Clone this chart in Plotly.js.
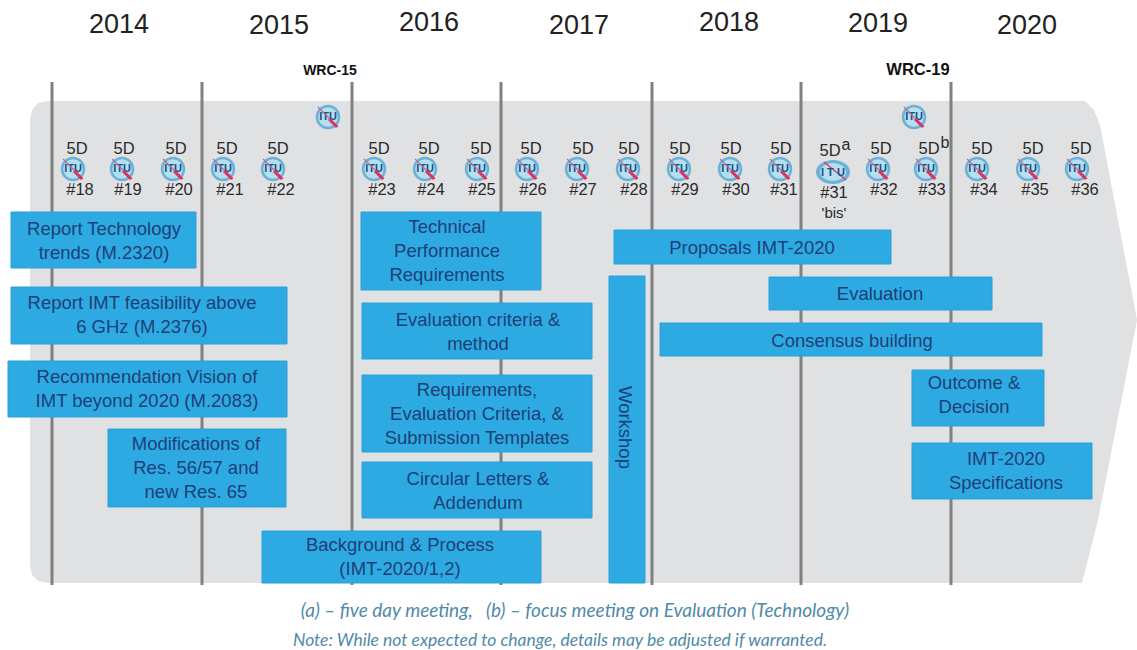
<!DOCTYPE html>
<html><head><meta charset="utf-8">
<script src="https://cdn.plot.ly/plotly-3.0.1.min.js"></script>
<style>html,body{margin:0;padding:0;background:#fff}#c{width:1137px;height:650px}</style>
</head><body><div id="c"></div>
<script>
// Timeline band outline
const bandX = [48,38,32,30,30,32,38,48,1082,1098,1137,1100,1094,1085,48];
const bandY = [101,103,110,120,565,575,581,583,583,520,320,125,110,101,101];

// Year labels
const years = ['2014','2015','2016','2017','2018','2019','2020'];
const yearX = [119,279,429,579,729,878,1027];
const yearY = [26,27,24,27,24,25,27];

// Year boundary lines
const boundaryX = [52,202,352,501,652,801,951];
const boundaryTop = [82,82,82,82,82,82,82];
const boundaryBottom = [585,585,585,585,585,585,585];

// WRC labels
const wrcLabels = ['WRC-15','WRC-19'];
const wrcX = [330,918];
const wrcY = [71,71];
const wrcSize = [14,16.5];
const wrcIconX = [328,914];
const wrcIconY = [117,117];

// Meetings
const meetingLabels = ['#18','#19','#20','#21','#22','#23','#24','#25','#26','#27','#28','#29','#30','#31','#32','#33','#34','#35','#36'];
const meetingIconX = [73,122,173,223,273,374,425,477,527,577,628,679,730,780,878,926,977,1028,1077];
const meetingTagX = [77,124,176,227,278,379,429,481,531,583,629,680,731,781,881,929,982,1033,1081];
const meetingNumX = [80,128,179,230,281,382,431,482,533,583,634,685,736,784,884,932,984,1035,1085];

// Work items
const taskNames = [
  'Report Technology<br>trends (M.2320)',
  'Report IMT feasibility above<br>6 GHz (M.2376)',
  'Recommendation Vision of<br>IMT beyond 2020 (M.2083)',
  'Modifications of<br>Res. 56/57 and<br>new Res. 65',
  'Technical<br>Performance<br>Requirements',
  'Evaluation criteria &<br>method',
  'Requirements,<br>Evaluation Criteria, &<br>Submission Templates',
  'Circular Letters &<br>Addendum',
  'Background & Process<br>(IMT-2020/1,2)',
  'Proposals IMT-2020',
  'Evaluation',
  'Consensus building',
  'Outcome &<br>Decision',
  'IMT-2020<br>Specifications'
];
const taskStart = [11,11,8,108,361,362,362,362,262,614,769,660,912,912];
const taskEnd = [196,287,287,286,541,592,592,592,541,891,992,1042,1044,1092];
const taskTop = [212,287,361,429,212,303,375,462,531,230,277,323,370,443];
const taskBottom = [268,344,417,507,290,359,452,518,583,264,310,356,426,499];
const taskTextX = [104,142,147,196,447,478,477,478,400,752,880,852,974,1006];
const taskTextY = [242,316,390,469,252,333,415,492,558,249,295,342,396,472];

const workshopStart = [609];
const workshopEnd = [645];
const workshopTop = [276];
const workshopBottom = [583];

const footnotes = ['(a) – five day meeting,   (b) – focus meeting on Evaluation (Technology)',
                   'Note: While not expected to change, details may be adjusted if warranted.'];
const footX = [575,560];
const footY = [612,642];
const footSize = [19,17.5];

const BLUE = '#2eaae2', NAVY = '#1d3f78', TXT = '#2b2b2b';
const sans = 'Liberation Sans, Arial, sans-serif';

function rects(s,e,t,b){
  const x=[],y=[];
  s.forEach((v,i)=>{x.push(v,e[i],e[i],v,v,null);y.push(t[i],t[i],b[i],b[i],t[i],null);});
  return {x,y};
}
function vlines(xs,t,b){
  const x=[],y=[];
  xs.forEach((v,i)=>{x.push(v,v,null);y.push(t[i],b[i],null);});
  return {x,y};
}
const tr = rects(taskStart.concat(workshopStart),taskEnd.concat(workshopEnd),taskTop.concat(workshopTop),taskBottom.concat(workshopBottom));
const vl = vlines(boundaryX,boundaryTop,boundaryBottom);

const iconX = meetingIconX.concat(wrcIconX);
const iconY = meetingIconX.map(()=>169).concat(wrcIconY);

const data = [
  {type:'scatter',mode:'lines',x:bandX,y:bandY,fill:'toself',fillcolor:'#e0e1e3',line:{width:0,color:'#e0e1e3'},hoverinfo:'skip'},
  {type:'scatter',mode:'lines',x:vl.x,y:vl.y,line:{color:'#808080',width:3},hoverinfo:'skip'},
  {type:'scatter',mode:'lines',x:tr.x,y:tr.y,fill:'toself',fillcolor:BLUE,line:{color:'#2b9fd6',width:1},hoverinfo:'skip'},
  // ITU emblems
  {type:'scatter',mode:'markers+text',x:iconX,y:iconY,text:iconX.map(()=> 'ITU'),textposition:'middle center',
   textfont:{family:sans,size:11,color:'#1d4f86',weight:700},
   marker:{symbol:'circle',size:22,color:'#b4dfee',line:{width:2.5,color:'#6fb0d6'}},hoverinfo:'skip'},
  {type:'scatter',mode:'markers',x:iconX,y:iconY,
   marker:{symbol:'line-nw',size:20,line:{color:'#b5728f',width:1.2}},hoverinfo:'skip'},
  {type:'scatter',mode:'markers',x:iconX.map(v=>v+5),y:iconY.map(v=>v+6),
   marker:{symbol:'line-nw',size:8,line:{color:'#e0305f',width:3}},hoverinfo:'skip'},
  // Meeting tags
  {type:'scatter',mode:'text',x:meetingTagX.concat([830]),y:meetingTagX.map(()=>150).concat([152]),text:meetingTagX.map(()=> '5D').concat(['5D']),
   textposition:'middle center',textfont:{family:sans,size:16.5,color:TXT},hoverinfo:'skip'},
  {type:'scatter',mode:'text',x:meetingNumX.concat([834]),y:meetingNumX.map(()=>191).concat([194]),text:meetingLabels.concat(['#31']),
   textposition:'middle center',textfont:{family:sans,size:16.5,color:TXT},hoverinfo:'skip'},
  {type:'scatter',mode:'text',x:[834],y:[214],text:["'bis'"],textposition:'middle center',textfont:{family:sans,size:15,color:TXT},hoverinfo:'skip'},
  {type:'scatter',mode:'text',x:[846,945],y:[146,144],text:['a','b'],textposition:'middle center',textfont:{family:sans,size:16,color:TXT},hoverinfo:'skip'},
  // Work item labels
  {type:'scatter',mode:'text',x:taskTextX,y:taskTextY,text:taskNames,textposition:'middle center',
   textfont:{family:sans,size:18.5,color:NAVY},hoverinfo:'skip'},
  // Years and WRC
  {type:'scatter',mode:'text',x:yearX,y:yearY,text:years,textposition:'middle center',textfont:{family:sans,size:27,color:'#222'},hoverinfo:'skip'},
  {type:'scatter',mode:'text',x:wrcX,y:wrcY,text:wrcLabels,textposition:'middle center',textfont:{family:sans,size:wrcSize,color:'#111',weight:700},hoverinfo:'skip'},
  // Footnotes
  {type:'scatter',mode:'text',x:footX,y:footY,text:footnotes,textposition:'middle center',
   textfont:{family:'Lato, sans-serif',size:footSize,color:'#4f8aa8',style:'italic'},hoverinfo:'skip'}
];

const layout = {
  width:1137,height:650,margin:{l:0,r:0,t:0,b:0},showlegend:false,
  paper_bgcolor:'#fff',plot_bgcolor:'#fff',
  xaxis:{range:[0,1137],visible:false,fixedrange:true},
  yaxis:{range:[650,0],visible:false,fixedrange:true},
  shapes:[
    {type:'circle',xref:'x',yref:'y',x0:816,x1:850,y0:160,y1:184,layer:'above',fillcolor:'#6fb0d6',line:{width:0}},
    {type:'circle',xref:'x',yref:'y',x0:820,x1:846,y0:163,y1:181,layer:'above',fillcolor:'#b4dfee',line:{width:0}},
    {type:'line',xref:'x',yref:'y',x0:824,x1:846,y0:162,y1:180,layer:'above',line:{color:'#d9406c',width:1.5}}
  ],
  annotations:[
    {x:626,y:427,xref:'x',yref:'y',text:'Workshop',textangle:90,showarrow:false,font:{family:sans,size:18.5,color:NAVY}},
    {x:833,y:172,xref:'x',yref:'y',text:'I T U',showarrow:false,font:{family:sans,size:11,color:'#1d4f86',weight:700}}
  ]
};
Plotly.newPlot('c',data,layout,{displayModeBar:false,staticPlot:true});
</script>
</body></html>
